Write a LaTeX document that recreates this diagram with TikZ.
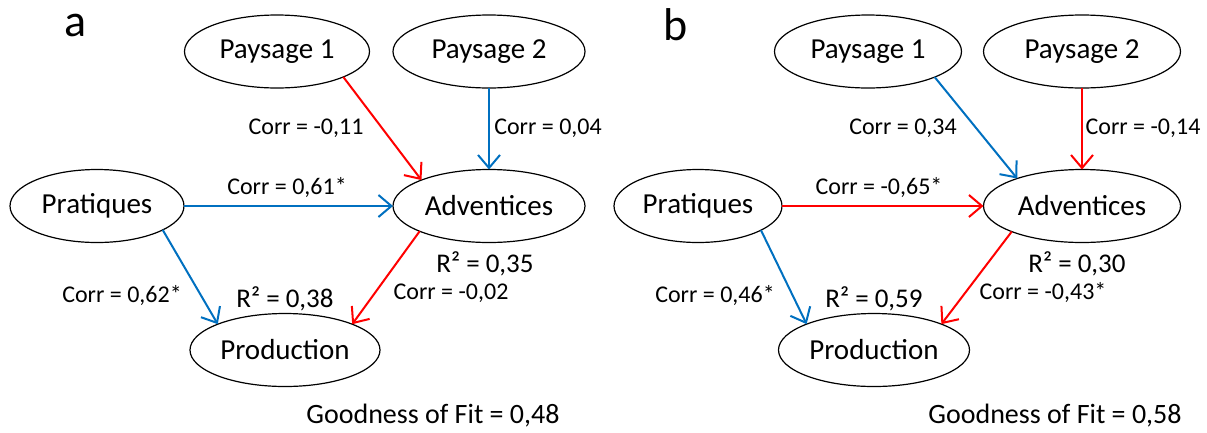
\documentclass[tikz,border=0pt]{standalone}
\usepackage{fontspec}
\setmainfont{Carlito}
\usetikzlibrary{shapes.geometric,arrows.meta}
\definecolor{pathred}{RGB}{255,0,0}
\definecolor{pathblue}{RGB}{0,112,192}
\tikzset{
  latent/.style={ellipse,draw=black,line width=1.2pt,inner sep=0pt,outer sep=0pt,
    minimum width=#1,minimum height=73pt,font=\fontsize{29}{31}\selectfont},
  latent/.default=190pt,
  linkbase/.style={line width=2pt,-{Straight Barb[length=13pt,width=22pt,line width=2pt]}},
  poslink/.style={linkbase,draw=pathblue},
  neglink/.style={linkbase,draw=pathred},
  coef/.style={font=\fontsize{24}{26}\selectfont,inner sep=0pt},
  rsq/.style={font=\fontsize{27}{29}\selectfont,inner sep=0pt},
  fitlabel/.style={font=\fontsize{28}{30}\selectfont,inner sep=0pt},
  panel/.style={font=\fontsize{46}{48}\selectfont,inner sep=0pt}
}
\begin{document}
\begin{tikzpicture}[x=1pt,y=-1pt]
\useasboundingbox (0,0) rectangle (1207,432);

% ---------- panel a ----------
\node[panel] (la) at (76,25) {a};
\node[latent=185pt] (p1a) at (277,51.5) {Paysage 1};
\node[latent=192pt] (p2a) at (489,51.5) {Paysage 2};
\node[latent=174pt] (pra) at (97,206) {Pratiques};
\node[latent=192pt] (ada) at (489,206) {Adventices};
\node[latent=190pt] (pda) at (285,350) {Production};

\draw[neglink] (p1a.-21) -- (ada.159);
\draw[poslink] (p2a.south) -- (ada.north);
\draw[poslink] (pra.east) -- (ada.west);
\draw[poslink] (pra.-20) -- (pda.159);
\draw[neglink] (ada.200) -- (pda.21);

\node[coef] (c1a) at (306,128) {Corr = -0,11};
\node[coef] (c2a) at (548,128) {Corr = 0,04};
\node[coef] (c3a) at (287,188) {Corr = 0,61*};
\node[rsq]  (r1a) at (485,264) {R² = 0,35};
\node[coef] (c4a) at (451,293) {Corr = -0,02};
\node[coef] (c5a) at (122,296) {Corr = 0,62*};
\node[rsq]  (r2a) at (285,299) {R² = 0,38};
\node[fitlabel] (gfa) at (433,416) {Goodness of Fit = 0,48};

% ---------- panel b ----------
\node[panel] (lb) at (676,25) {b};
\node[latent=187pt] (p1b) at (868,51.5) {Paysage 1};
\node[latent=197pt] (p2b) at (1082,51.5) {Paysage 2};
\node[latent=168pt] (prb) at (698,206) {Pratiques};
\node[latent=197pt] (adb) at (1082,206) {Adventices};
\node[latent=191pt] (pdb) at (874,350) {Production};

\draw[poslink] (p1b.-21) -- (adb.157);
\draw[neglink] (p2b.south) -- (adb.north);
\draw[neglink] (prb.east) -- (adb.west);
\draw[poslink] (prb.-21) -- (pdb.159);
\draw[neglink] (adb.200) -- (pdb.21);

\node[coef] (c1b) at (903,128) {Corr = 0,34};
\node[coef] (c2b) at (1143,128) {Corr = -0,14};
\node[coef] (c3b) at (879,188) {Corr = -0,65*};
\node[rsq]  (r1b) at (1077,264) {R² = 0,30};
\node[coef] (c4b) at (1043,293) {Corr = -0,43*};
\node[coef] (c5b) at (715,296) {Corr = 0,46*};
\node[rsq]  (r2b) at (874,299) {R² = 0,59};
\node[fitlabel] (gfb) at (1055,416) {Goodness of Fit = 0,58};
\end{tikzpicture}
\end{document}
